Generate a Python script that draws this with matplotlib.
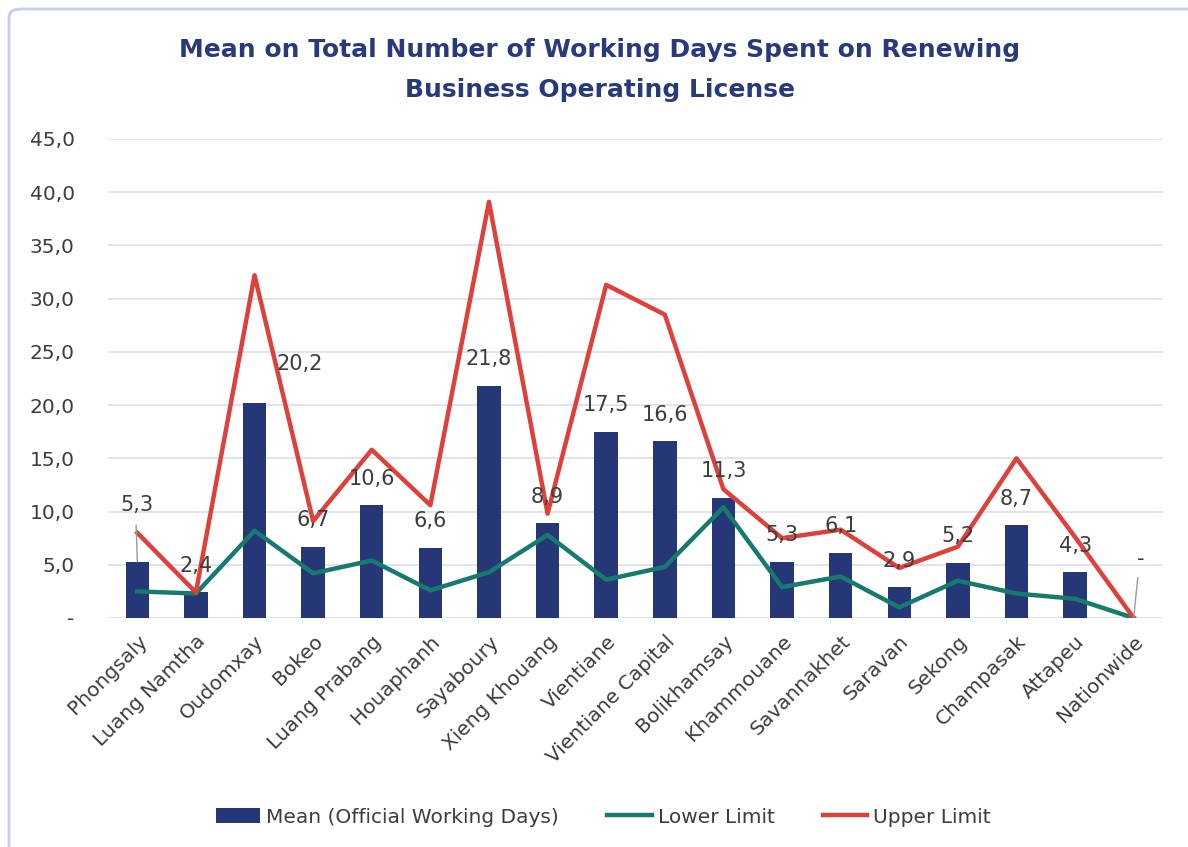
import numpy as np
import matplotlib.pyplot as plt
from matplotlib.patches import FancyBboxPatch

provinces = ["Phongsaly", "Luang Namtha", "Oudomxay", "Bokeo", "Luang Prabang",
             "Houaphanh", "Sayaboury", "Xieng Khouang", "Vientiane",
             "Vientiane Capital", "Bolikhamsay", "Khammouane", "Savannakhet",
             "Saravan", "Sekong", "Champasak", "Attapeu", "Nationwide"]
mean_days = [5.3, 2.4, 20.2, 6.7, 10.6, 6.6, 21.8, 8.9, 17.5, 16.6, 11.3,
             5.3, 6.1, 2.9, 5.2, 8.7, 4.3, 0.0]
lower = [2.5, 2.3, 8.2, 4.2, 5.4, 2.6, 4.3, 7.8, 3.6, 4.8, 10.4, 2.9, 3.9,
         1.0, 3.5, 2.3, 1.8, 0.0]
upper = [8.0, 2.4, 32.2, 9.1, 15.8, 10.6, 39.1, 9.8, 31.3, 28.5, 12.1, 7.5,
         8.3, 4.7, 6.7, 15.0, 7.6, 0.0]
yticks = [0, 5, 10, 15, 20, 25, 30, 35, 40, 45]

navy = "#253776"
red = "#e0403a"
teal = "#177a6f"
grid = "#dde0f0"
txt = "#3d3d3d"
font = "DejaVu Sans"

fig = plt.figure(figsize=(11.88, 8.47), dpi=100)
fig.patches.append(FancyBboxPatch((9 / 1188, -0.1), 1.2, 1.1 - 9 / 847,
                                  boxstyle="round,pad=0,rounding_size=0.01",
                                  transform=fig.transFigure, fill=False,
                                  edgecolor="#c9cce8", linewidth=2))
ax = fig.add_axes([108 / 1188, 1 - 618 / 847, (1163 - 108) / 1188, (618 - 139) / 847])

x = np.arange(len(provinces))
bars = ax.bar(x, mean_days, width=0.4, color=navy, label="Mean (Official Working Days)", zorder=2)
l1, = ax.plot(x, lower, color=teal, lw=3.2, label="Lower Limit", zorder=3)
l2, = ax.plot(x, upper, color=red, lw=3.2, label="Upper Limit", zorder=3)

ax.set_xlim(-0.5, len(provinces) - 0.5)
ax.set_ylim(0, 45)
ax.set_yticks(yticks)
ax.set_yticklabels(["-"] + [f"{v:.1f}".replace(".", ",") for v in yticks[1:]],
                   fontsize=14.5, color=txt, family=font)
ax.tick_params(axis="y", length=0, pad=24)
ax.tick_params(axis="x", length=0, pad=10)
ax.set_xticks(x)
ax.set_xticklabels(provinces, rotation=45, ha="right", rotation_mode="anchor",
                   fontsize=14.5, color=txt, family=font)
ax.grid(axis="y", color=grid, lw=1.3, zorder=0)
for s in ax.spines.values():
    s.set_visible(False)

# data labels
for i, v in enumerate(mean_days):
    lab = "-" if v == 0 else f"{v:.1f}".replace(".", ",")
    dx, dy = 0, 2.5
    if i == 0:
        dy = 5.3
        ax.plot([i, i - 0.02], [v, v + 3.4], color="#9a9a9a", lw=1, zorder=4)
    elif i == 2:
        dx, dy = 0.77, 3.7
    elif i == len(mean_days) - 1:
        dx, dy = 0.12, 5.5
        ax.plot([i, i + 0.07], [0, 3.8], color="#9a9a9a", lw=1, zorder=4)
    ax.text(i + dx, v + dy, lab, ha="center", va="center", fontsize=15,
            color=txt, family=font, zorder=5)

fig.text(0.505, 1 - 50 / 847, "Mean on Total Number of Working Days Spent on Renewing",
         ha="center", va="center", fontsize=18, fontweight="bold", color="#283a7c", family=font)
fig.text(0.505, 1 - 90 / 847, "Business Operating License",
         ha="center", va="center", fontsize=18, fontweight="bold", color="#283a7c", family=font)

fig.legend([bars, l1, l2], ["Mean (Official Working Days)", "Lower Limit", "Upper Limit"],
           loc="center", bbox_to_anchor=(0.508, 1 - 817 / 847), ncol=3, frameon=False,
           prop={"family": font, "size": 14.5}, labelcolor=txt, handlelength=2.2,
           handletextpad=0.3, columnspacing=2.4)

fig.savefig("out.png", dpi=100, facecolor="white")
